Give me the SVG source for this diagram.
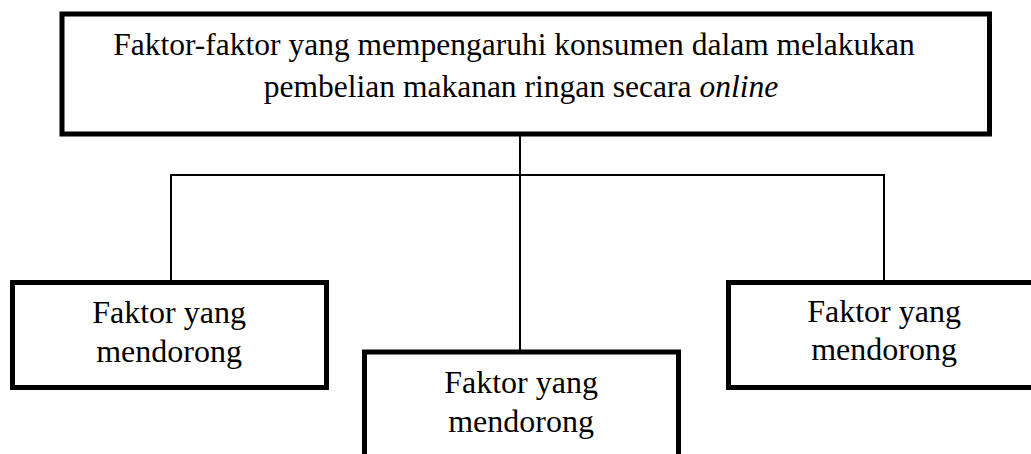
<svg xmlns="http://www.w3.org/2000/svg" width="1031" height="454" viewBox="0 0 1031 454">
<style>
.box{fill:#fff;stroke:#000;stroke-width:5}
.t{font-family:"Liberation Serif","Times New Roman",serif;font-size:32px;fill:#000;text-anchor:middle}
.top{font-size:31.5px}
.conn{stroke:#000;stroke-width:2;fill:none}
</style>
<rect width="1031" height="454" fill="#fff"/>
<g id="connectors">
<line class="conn" x1="520" y1="134" x2="520" y2="350"/>
<polyline class="conn" points="171,282 171,175 884,175 884,282"/>
</g>
<g id="top">
<rect class="box" x="62" y="14" width="927.5" height="120"/>
<text class="t top" x="514" y="55">Faktor-faktor yang mempengaruhi konsumen dalam melakukan</text>
<text class="t top" x="521" y="97">pembelian makanan ringan secara <tspan font-style="italic">online</tspan></text>
</g>
<g id="left">
<rect class="box" x="12.5" y="282.5" width="314" height="105"/>
<text class="t" x="169" y="323">Faktor yang</text>
<text class="t" x="169" y="362">mendorong</text>
</g>
<g id="middle">
<rect class="box" x="364.5" y="352" width="314" height="130"/>
<text class="t" x="521" y="393">Faktor yang</text>
<text class="t" x="521" y="432">mendorong</text>
</g>
<g id="right">
<rect class="box" x="728.5" y="282.5" width="314" height="105"/>
<text class="t" x="884" y="322">Faktor yang</text>
<text class="t" x="884" y="360">mendorong</text>
</g>
</svg>
